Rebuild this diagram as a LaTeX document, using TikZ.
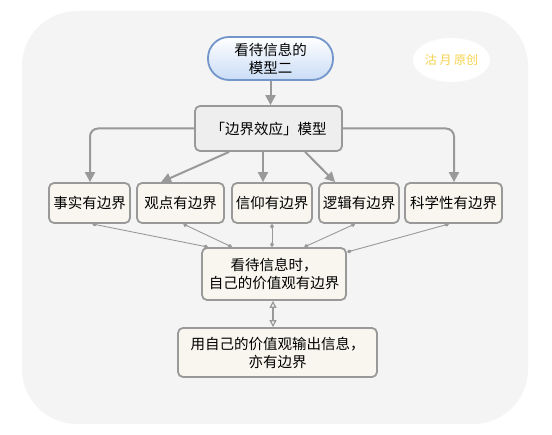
\documentclass[tikz,border=0pt]{standalone}
\usepackage{fontspec}
\setmainfont{Noto Sans CJK SC}
\usetikzlibrary{arrows.meta,calc,shapes.geometric}
\definecolor{bggray}{HTML}{F4F4F4}
\definecolor{linegray}{HTML}{999999}
\definecolor{cream}{HTML}{F8F6EE}
\definecolor{boxgray}{HTML}{EEEEEE}
\definecolor{pillblue}{HTML}{C9DCF6}
\definecolor{pillborder}{HTML}{7396CA}
\definecolor{wmyellow}{HTML}{F6D24E}
\tikzset{
  box/.style={draw=linegray, line width=1.8pt, rounded corners=5pt, fill=cream,
    align=center, inner sep=0pt, font=\fontsize{14.5}{18}\selectfont},
  arr/.style={draw=linegray, line width=2pt, -{Triangle[length=10pt,width=10pt]}},
  thin/.style={draw=linegray, line width=0.9pt, {Diamond[length=5pt,width=4pt]}-{Diamond[length=5pt,width=4pt]}},
  dbl/.style={draw=linegray, line width=1.2pt, {Triangle[open,length=7pt,width=7pt]}-{Triangle[open,length=7pt,width=7pt]}}
}
\begin{document}
\begin{tikzpicture}[x=1pt,y=-1pt]
\useasboundingbox (0,0) rectangle (552,435);
\fill[white] (0,0) rectangle (552,435);
\fill[bggray, rounded corners=55pt] (22,11) rectangle (528,424);
% watermark
\node[ellipse, fill=white, minimum width=77pt, minimum height=44pt, inner sep=0pt,
  text=wmyellow, font=\fontsize{12}{14}\selectfont] (wm) at (451.5,60) {沽 月 原创};
% nodes
\node[box, draw=pillborder, rounded corners=21pt, top color=white, bottom color=pillblue,
  minimum width=125pt, minimum height=43pt] (top) at (270.5,58.5) {看待信息的\\模型二};
\node[box, fill=boxgray, minimum width=147pt, minimum height=45pt] (bj) at (268.5,128.5) {「边界效应」模型};
\node[box, minimum width=81pt, minimum height=40pt] (ss) at (89.5,203) {事实有边界};
\node[box, minimum width=87pt, minimum height=40pt] (gd) at (180.5,203) {观点有边界};
\node[box, minimum width=80pt, minimum height=40pt] (xy) at (272,203) {信仰有边界};
\node[box, minimum width=80pt, minimum height=40pt] (lj) at (359,203) {逻辑有边界};
\node[box, minimum width=97pt, minimum height=40pt] (kx) at (453.5,203) {科学性有边界};
\node[box, minimum width=144pt, minimum height=52pt] (mid) at (274,274) {看待信息时，\\自己的价值观有边界};
\node[box, minimum width=199pt, minimum height=49pt] (bot) at (277.5,352.5) {用自己的价值观输出信息，\\亦有边界};
% connectors
\draw[arr] (top.south) -- (top.south |- bj.north);
\draw[arr, rounded corners=8pt] (bj.west) -| ($(ss.north)+(0.5,0)$);
\draw[arr, rounded corners=8pt] (bj.east) -| ($(kx.north)+(0.5,0)$);
\draw[arr] ($(bj.south west)+(35,0)$) -- ($(gd.north west)+(25,0)$);
\draw[arr] ($(bj.south)+(-5.5,0)$) -- ($(xy.north)+(-9,0)$);
\draw[arr] ($(bj.south west)+(111,0)$) -- ($(lj.north west)+(17,0)$);
% thin links
\draw[thin] ($(ss.south west)+(44,0)$) -- ($(mid.north west)+(7,0)$);
\draw[thin] ($(gd.south west)+(47,0)$) -- ($(mid.north west)+(31,0)$);
\draw[thin] (xy.south) -- (xy.south |- mid.north);
\draw[thin] ($(lj.south west)+(37,0)$) -- ($(mid.north west)+(103,0)$);
\draw[thin] ($(kx.south west)+(45,0)$) -- ($(mid.north east)+(0,5)$);
\draw[dbl] ($(mid.south)+(-1,0)$) -- ($(mid.south |- bot.north)+(-1,0)$);
\end{tikzpicture}
\end{document}
